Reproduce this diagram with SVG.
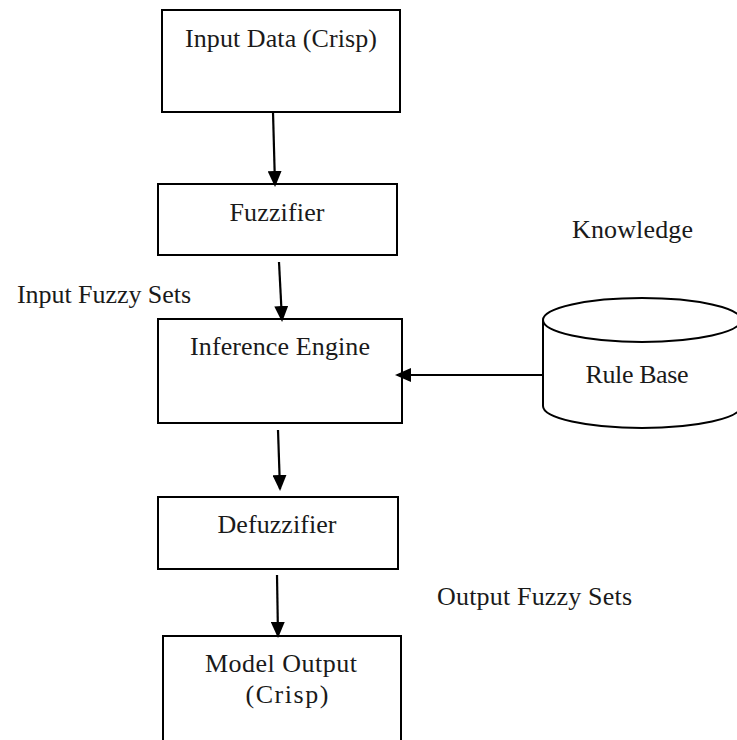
<svg xmlns="http://www.w3.org/2000/svg" width="737" height="740" viewBox="0 0 737 740">
<style>
.box{fill:#fff;stroke:#000;stroke-width:2}
.cyl{fill:#fff;stroke:#000;stroke-width:2}
.lbl{font-family:"Liberation Serif","Times New Roman",serif;font-size:26px;fill:#1a1a1a}
.c{text-anchor:middle}
.edge{stroke:#000;stroke-width:2.2;fill:none;marker-end:url(#ah)}
</style>
<defs>
<marker id="ah" markerUnits="userSpaceOnUse" markerWidth="16" markerHeight="14" refX="14" refY="7" orient="auto" viewBox="0 0 16 14">
<path d="M0,0 L16,7 L0,14 z" fill="#000"/>
</marker>
</defs>
<rect width="737" height="740" fill="#fff"/>
<g id="input-data">
<rect class="box" x="162" y="10" width="238" height="102"/>
<text class="lbl c" x="281" y="47" textLength="192" lengthAdjust="spacing">Input Data (Crisp)</text>
</g>
<g id="fuzzifier">
<rect class="box" x="158" y="184" width="239" height="71"/>
<text class="lbl c" x="277" y="221" textLength="95" lengthAdjust="spacing">Fuzzifier</text>
</g>
<g id="inference-engine">
<rect class="box" x="158" y="319" width="244" height="104"/>
<text class="lbl c" x="280" y="355" textLength="180" lengthAdjust="spacing">Inference Engine</text>
</g>
<g id="defuzzifier">
<rect class="box" x="158" y="497" width="240" height="72"/>
<text class="lbl c" x="277" y="533" textLength="119" lengthAdjust="spacing">Defuzzifier</text>
</g>
<g id="model-output">
<rect class="box" x="163" y="636" width="238" height="120"/>
<text class="lbl c" x="281" y="672" textLength="152" lengthAdjust="spacing">Model Output</text>
<text class="lbl c" x="287" y="703" textLength="83" lengthAdjust="spacing">(Crisp)</text>
</g>
<g id="rule-base">
<path class="cyl" d="M543,320 L543,406 A99,22 0 0 0 741,406 L741,320"/>
<ellipse class="cyl" cx="642" cy="320" rx="99" ry="22"/>
<text class="lbl c" x="637" y="383" textLength="103" lengthAdjust="spacing">Rule Base</text>
</g>
<g id="labels">
<text class="lbl" x="572" y="238" textLength="121" lengthAdjust="spacing">Knowledge</text>
<text class="lbl" x="17" y="303" textLength="174" lengthAdjust="spacing">Input Fuzzy Sets</text>
<text class="lbl" x="437" y="605" textLength="195" lengthAdjust="spacing">Output Fuzzy Sets</text>
</g>
<g id="connectors">
<line class="edge" x1="273" y1="112" x2="275" y2="185"/>
<line class="edge" x1="279" y1="262" x2="282" y2="320"/>
<line class="edge" x1="278" y1="430" x2="280" y2="489"/>
<line class="edge" x1="277" y1="575" x2="278" y2="636"/>
<line class="edge" x1="543" y1="375" x2="397" y2="375"/>
</g>
</svg>
